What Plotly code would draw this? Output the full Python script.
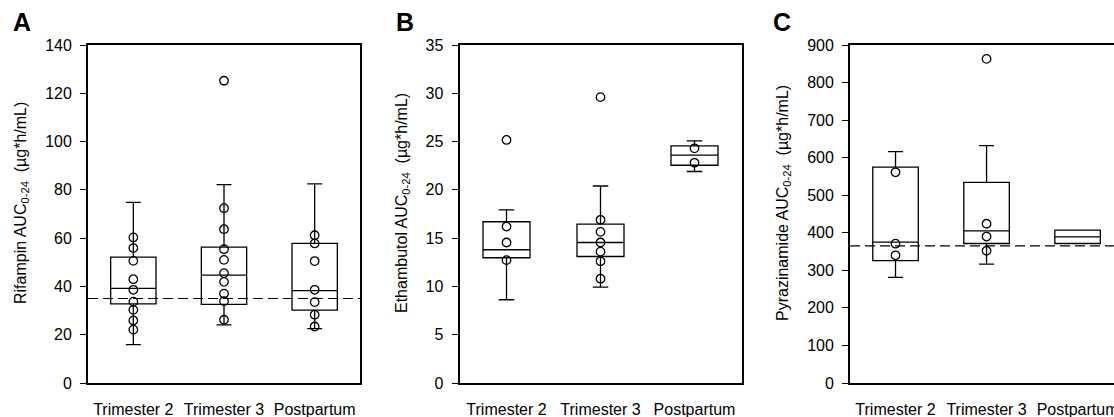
import plotly.graph_objects as go

W, H = 1114, 417

categories = ["Trimester 2", "Trimester 3", "Postpartum"]

# Rifampin AUC0-24 (panel A)
rif_q1 = [32.8, 32.6, 30.2]
rif_med = [39.2, 44.7, 38.3]
rif_q3 = [52.1, 56.3, 57.8]
rif_lo = [15.9, 24.1, 22.5]
rif_hi = [74.8, 82.2, 82.5]
rif_points = [
    [60.3, 55.9, 50.6, 43.0, 38.6, 33.7, 30.3, 25.9, 22.1],
    [125.2, 72.4, 63.7, 55.4, 51.0, 45.5, 41.9, 37.0, 33.9, 26.2],
    [61.2, 57.8, 50.5, 38.6, 33.5, 28.3, 23.4],
]
rif_ref = 35

# Ethambutol AUC0-24 (panel B)
emb_q1 = [12.97, 13.1, 22.55]
emb_med = [13.8, 14.55, 23.6]
emb_q3 = [16.7, 16.45, 24.55]
emb_lo = [8.62, 9.93, 21.9]
emb_hi = [17.93, 20.4, 25.07]
emb_points = [
    [25.17, 16.2, 14.55, 12.72],
    [29.6, 16.9, 15.65, 14.55, 13.6, 12.6, 10.8],
    [24.3, 22.8],
]

# Pyrazinamide AUC0-24 (panel C)
pza_q1 = [326, 371.5, 371.5]
pza_med = [375, 405, 389]
pza_q3 = [575, 534, 407]
pza_lo = [281, 316.5, 371.5]
pza_hi = [616, 632, 407]
pza_points = [
    [561, 371, 340],
    [863, 424, 390, 352],
    [],
]
pza_ref = 365

FONT = "Liberation Sans, Arial, sans-serif"

panels = [
    dict(q1=rif_q1, med=rif_med, q3=rif_q3, lo=rif_lo, hi=rif_hi, pts=rif_points,
         ref=rif_ref, yr=[0, 140], dt=20, xd=[88, 360], xr=[-0.5, 2.5],
         title="Rifampin AUC<sub>0-24</sub>  (µg*h/mL)", tx=21, letter="A", lx=22),
    dict(q1=emb_q1, med=emb_med, q3=emb_q3, lo=emb_lo, hi=emb_hi, pts=emb_points,
         ref=None, yr=[0, 35], dt=5, xd=[459.5, 741.5], xr=[-0.5, 2.5],
         title="Ethambutol AUC<sub>0-24</sub>  (µg*h/mL)", tx=402, letter="B", lx=405),
    dict(q1=pza_q1, med=pza_med, q3=pza_q3, lo=pza_lo, hi=pza_hi, pts=pza_points,
         ref=pza_ref, yr=[0, 900], dt=100, xd=[850, 1114], xr=[-0.5, 2.40],
         title="Pyrazinamide AUC<sub>0-24</sub>  (µg*h/mL)", tx=783, letter="C", lx=782),
]

fig = go.Figure()
ydom = [34 / H, 372 / H]
annotations = []
shapes = []

for i, p in enumerate(panels):
    n = "" if i == 0 else str(i + 1)
    xa, ya = "x" + n, "y" + n
    fig.add_trace(go.Box(
        x=[0, 1, 2], q1=p["q1"], median=p["med"], q3=p["q3"],
        lowerfence=p["lo"], upperfence=p["hi"],
        width=0.5, whiskerwidth=0.33,
        fillcolor="rgba(0,0,0,0)", line=dict(color="black", width=1.3),
        boxpoints=False, xaxis=xa, yaxis=ya, showlegend=False, hoverinfo="skip",
    ))
    px, py = [], []
    for k, vals in enumerate(p["pts"]):
        px += [k] * len(vals)
        py += vals
    fig.add_trace(go.Scatter(
        x=px, y=py, mode="markers",
        marker=dict(symbol="circle-open", size=8.5, color="black", line=dict(width=1.3)),
        xaxis=xa, yaxis=ya, showlegend=False, hoverinfo="skip",
    ))
    if p["ref"] is not None:
        shapes.append(dict(type="line", xref=xa + " domain", yref=ya,
                           x0=0, x1=1, y0=p["ref"], y1=p["ref"],
                           line=dict(color="black", width=1.2, dash="10px,5px")))
    xkey = "xaxis" + n
    ykey = "yaxis" + n
    fig.layout[xkey] = dict(
        domain=[p["xd"][0] / W, p["xd"][1] / W], range=p["xr"], anchor=ya,
        tickvals=[0, 1, 2], ticktext=categories, ticks="",
        showline=True, linecolor="black", linewidth=1.8, mirror=True,
        showgrid=False, zeroline=False, ticklabelstandoff=11,
        automargin=False, ticklabeloverflow="allow",
        tickfont=dict(family=FONT, size=16, color="black"),
    )
    fig.layout[ykey] = dict(
        domain=ydom, range=p["yr"], anchor=xa, dtick=p["dt"], tick0=0,
        ticks="outside", ticklen=6, tickwidth=1.3, tickcolor="black",
        showline=True, linecolor="black", linewidth=1.8,
        mirror=(i < 2), showgrid=False, zeroline=False, ticklabelstandoff=5,
        automargin=False, ticklabeloverflow="allow",
        tickfont=dict(family=FONT, size=16, color="black"),
    )
    annotations.append(dict(
        text=p["title"], x=p["tx"] / W, y=214 / H, xref="paper", yref="paper",
        xanchor="center", yanchor="middle", textangle=-90, showarrow=False,
        font=dict(family=FONT, size=16, color="black"),
    ))
    annotations.append(dict(
        text="<b>" + p["letter"] + "</b>", x=p["lx"] / W, y=(417 - 22) / H,
        xref="paper", yref="paper", xanchor="center", yanchor="middle",
        showarrow=False, font=dict(family=FONT, size=25, color="black"),
    ))

fig.update_layout(
    width=W, height=H, margin=dict(l=0, r=0, t=0, b=0, autoexpand=False),
    paper_bgcolor="white", plot_bgcolor="white",
    annotations=annotations, shapes=shapes,
)

fig.write_html(
    "out.html",
    config={"displayModeBar": False},
    post_script="document.body.style.margin='0';document.body.style.overflow='hidden';",
)
